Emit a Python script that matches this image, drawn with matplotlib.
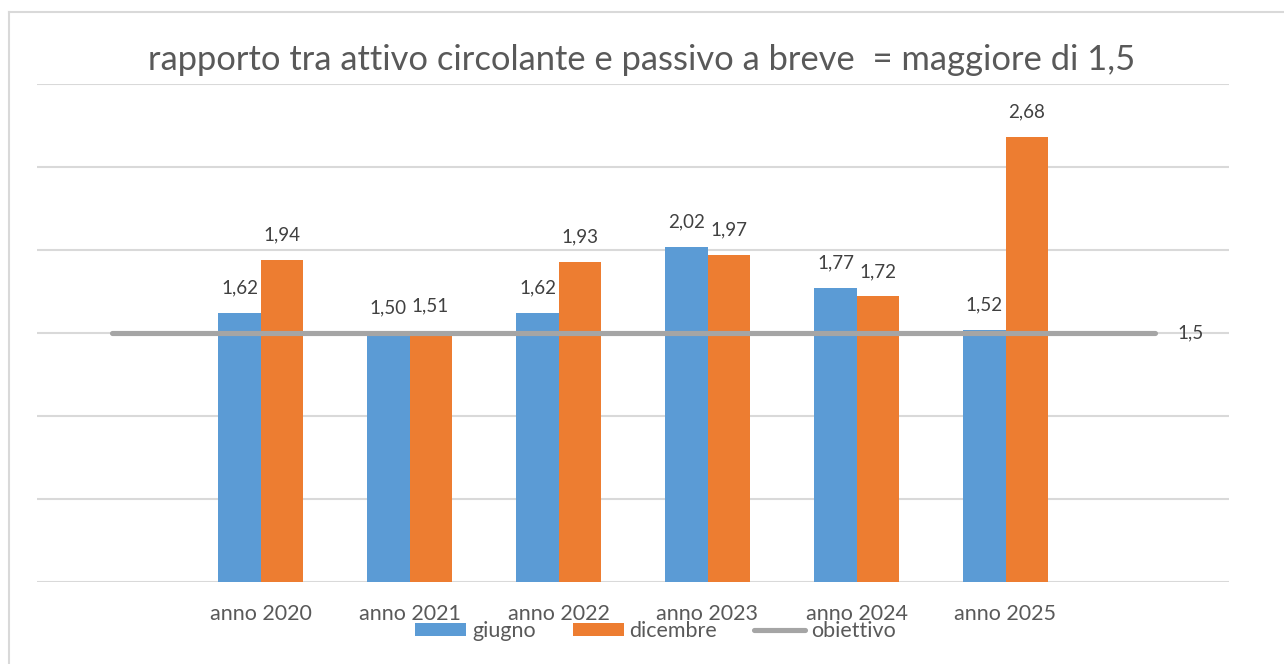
import matplotlib
matplotlib.use("Agg")
import matplotlib.pyplot as plt
from matplotlib.lines import Line2D
import numpy as np

# ---- data ----
categories = ["", "anno 2020", "anno 2021", "anno 2022", "anno 2023", "anno 2024", "anno 2025", ""]
giugno = [None, 1.62, 1.50, 1.62, 2.02, 1.77, 1.52, None]
dicembre = [None, 1.94, 1.51, 1.93, 1.97, 1.72, 2.68, None]
obiettivo = [1.5, 1.5, 1.5, 1.5, 1.5, 1.5, 1.5, 1.5]
title = "rapporto tra attivo circolante e passivo a breve  = maggiore di 1,5"

BLUE = "#5B9BD5"
ORANGE = "#ED7D31"
GRAY = "#A5A5A5"
GRID = "#D9D9D9"
TXT = "#595959"
LBL = "#404040"

plt.rcParams['font.family'] = ['Lato', 'DejaVu Sans']

fig = plt.figure(figsize=(12.84, 6.64), dpi=100)
ax = fig.add_axes([37/1284, 1-582/664, (1229-37)/1284, (582-84)/664])

x = np.arange(len(categories))
bw = 0.282
gi = [v if v is not None else np.nan for v in giugno]
di = [v if v is not None else np.nan for v in dicembre]
b1 = ax.bar(x - bw/2, gi, bw, color=BLUE, label="giugno", zorder=3)
b2 = ax.bar(x + bw/2, di, bw, color=ORANGE, label="dicembre", zorder=3)
ln, = ax.plot(x, obiettivo, color=GRAY, lw=3.7, solid_capstyle='round', label="obiettivo", zorder=4)

def fmt(v, nd=2):
    return f"{v:.{nd}f}".replace(".", ",")

for xi, v in zip(x, giugno):
    if v is not None:
        ax.annotate(fmt(v), (xi - bw/2, v), xytext=(0, 18), textcoords="offset points",
                    ha="center", va="center", fontsize=13.5, color=LBL, zorder=5)
for xi, v in zip(x, dicembre):
    if v is not None:
        ax.annotate(fmt(v), (xi + bw/2, v), xytext=(0, 18), textcoords="offset points",
                    ha="center", va="center", fontsize=13.5, color=LBL, zorder=5)
ax.annotate(fmt(obiettivo[-1], 1), (x[-1], obiettivo[-1]), xytext=(26, 0), textcoords="offset points",
            ha="center", va="center", fontsize=13.5, color=LBL, zorder=5)

ax.set_xlim(-0.5, len(categories) - 0.5)
ax.set_ylim(0, 3)
ax.set_yticks(np.arange(0, 3.01, 0.5))
ax.yaxis.grid(True, color=GRID, lw=1.5, zorder=0)
ax.set_axisbelow(True)
ax.tick_params(axis='y', length=0, labelleft=False)
ax.set_xticks(x)
ax.set_xticklabels(categories, fontsize=15.5, color=TXT)
ax.tick_params(axis='x', length=0, pad=15.5)
for s in ax.spines.values():
    s.set_visible(False)

fig.text(0.5, 1-60/664, title, ha="center", va="center", fontsize=24.8, color=TXT)

leg = fig.legend(handles=[b1, b2, ln], loc="center", bbox_to_anchor=(655.5/1284, 1-631/664),
                 ncol=3, frameon=False, fontsize=15.5, handlelength=2.37, handleheight=0.6,
                 handletextpad=0.28, columnspacing=1.7, borderpad=0, borderaxespad=0)
for t in leg.get_texts():
    t.set_color(TXT)

# outer frame (left and top edges visible)
fig.add_artist(Line2D([9/1284, 9/1284], [0, 1-12/664], color=GRID, lw=1.5, transform=fig.transFigure))
fig.add_artist(Line2D([9/1284, 1], [1-12/664, 1-12/664], color=GRID, lw=1.5, transform=fig.transFigure))

fig.savefig("out.png", dpi=100)
